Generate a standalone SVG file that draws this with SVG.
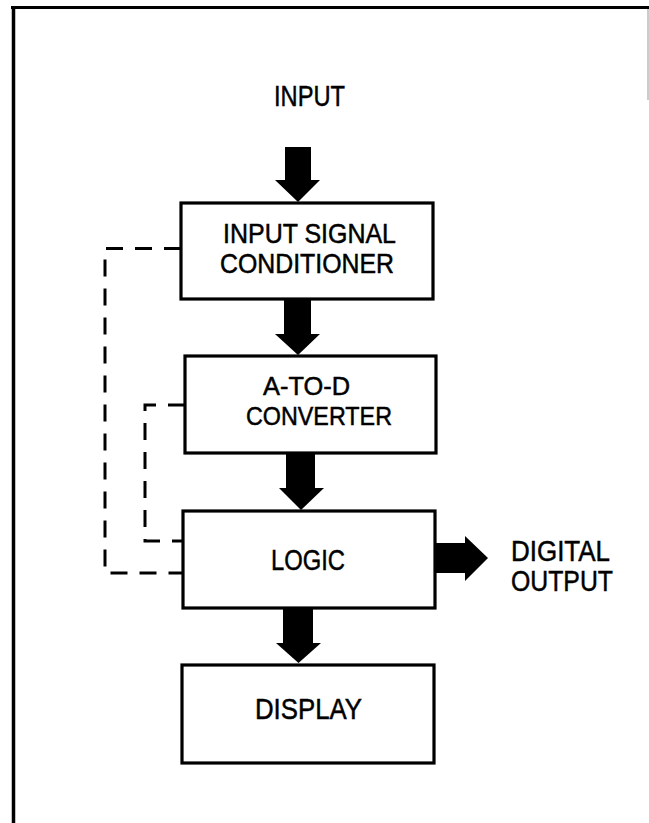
<svg xmlns="http://www.w3.org/2000/svg" width="649" height="823" viewBox="0 0 649 823">
<style>
.box{fill:#fff;stroke:#000;stroke-width:3.2}
.lbl{font-family:"Liberation Sans",Arial,sans-serif;font-size:28px;fill:#000;stroke:#000;stroke-width:0.5}
.big{font-size:30px}
.dash{fill:none;stroke:#000;stroke-width:3;stroke-dasharray:17 12}
.arr{fill:#000;stroke:none}
</style>
<rect width="649" height="823" fill="#fff"/>
<g id="frame">
<line x1="11" y1="7.5" x2="649" y2="7.5" stroke="#000" stroke-width="3"/>
<line x1="13.5" y1="6" x2="13.5" y2="823" stroke="#000" stroke-width="3.5"/>
<line x1="648" y1="9" x2="648" y2="100" stroke="#999" stroke-width="1"/>
</g>
<g id="connectors">
<path class="arr" d="M285,147 H311 V180 H320 L298,202 L275,180 H285 Z"/>
<path class="arr" d="M284,299 H311 V334 H320 L298,355 L275,334 H284 Z"/>
<path class="arr" d="M286,453 H315 V488 H324 L301,510 L279,488 H286 Z"/>
<path class="arr" d="M283,608 H313 V643 H321 L298.5,663 L276,643 H283 Z"/>
<path class="arr" d="M435,543 H465 V536 L488,558 L465,581 V573 H435 Z"/>
<path class="dash" d="M181,248.5 H105 V573 H183"/>
<path class="dash" d="M185,405 H145 V541 H183"/>
</g>
<g id="input-label">
<text class="lbl big" x="274" y="106" textLength="71" lengthAdjust="spacingAndGlyphs">INPUT</text>
</g>
<g id="input-signal-conditioner">
<rect class="box" x="181" y="203" width="252" height="96"/>
<text class="lbl" x="223" y="243" textLength="173" lengthAdjust="spacingAndGlyphs">INPUT SIGNAL</text>
<text class="lbl" x="220" y="273" textLength="174" lengthAdjust="spacingAndGlyphs">CONDITIONER</text>
</g>
<g id="a-to-d-converter">
<rect class="box" x="185" y="356" width="251" height="97"/>
<text class="lbl" x="263" y="395" style="font-size:26px" textLength="87" lengthAdjust="spacingAndGlyphs">A-TO-D</text>
<text class="lbl" x="246" y="425" style="font-size:26px" textLength="146" lengthAdjust="spacingAndGlyphs">CONVERTER</text>
</g>
<g id="logic">
<rect class="box" x="183" y="511" width="252" height="97"/>
<text class="lbl big" x="271" y="570" textLength="74" lengthAdjust="spacingAndGlyphs">LOGIC</text>
</g>
<g id="digital-output">
<text class="lbl big" x="511" y="561" textLength="99" lengthAdjust="spacingAndGlyphs">DIGITAL</text>
<text class="lbl big" x="511" y="591" textLength="102" lengthAdjust="spacingAndGlyphs">OUTPUT</text>
</g>
<g id="display">
<rect class="box" x="182" y="665" width="252" height="98"/>
<text class="lbl big" x="255" y="719" textLength="107" lengthAdjust="spacingAndGlyphs">DISPLAY</text>
</g>
</svg>
